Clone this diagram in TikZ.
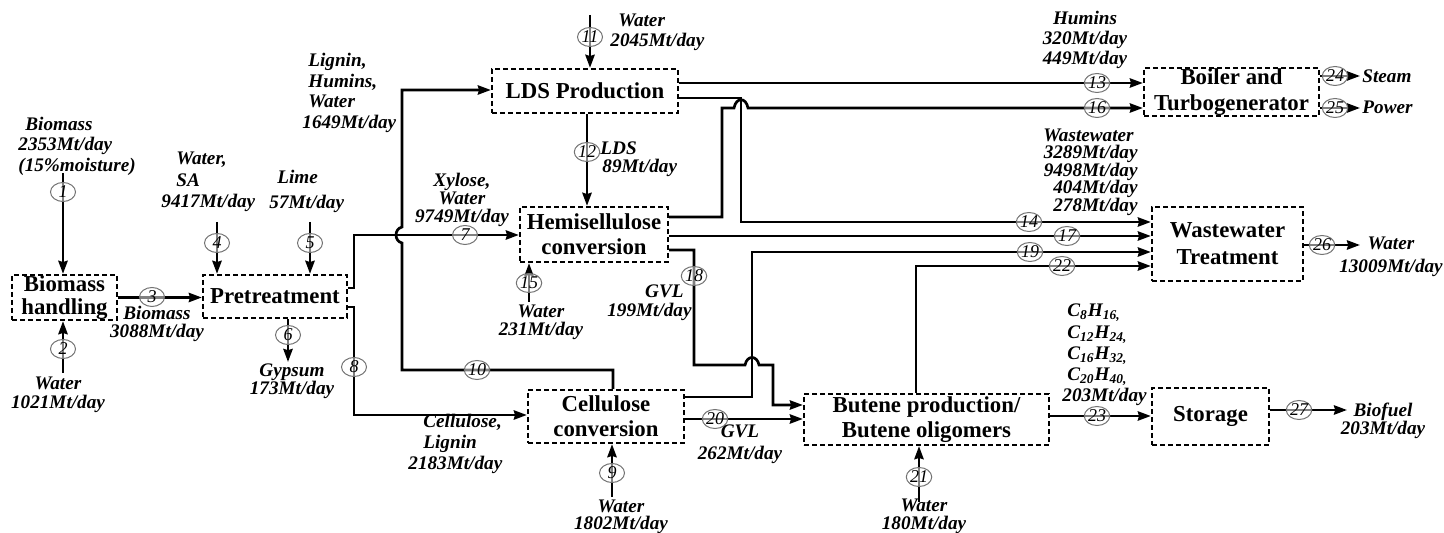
\documentclass[tikz,border=0pt]{standalone}
\usepackage{fontspec}
\setmainfont{Liberation Serif}
\usetikzlibrary{arrows.meta,shapes.geometric}
\tikzset{
  box/.style={draw, line width=1.15pt, dash pattern=on 2.4pt off 1.6pt, align=center, inner sep=0pt,
    font=\bfseries\fontsize{11.4}{12.5}\selectfont},
  flow/.style={line width=1.35pt, -{Stealth[length=6.5pt,width=4.6pt,inset=0.6pt]}},
  num/.style={ellipse, draw=black!55, line width=0.5pt, fill=white, fill opacity=0.5, text opacity=1,
    minimum width=12.5pt, minimum height=9.5pt, inner sep=0pt, font=\itshape\fontsize{9}{9}\selectfont},
  lab/.style={inner sep=0pt, font=\bfseries\itshape\fontsize{9.6}{#1}\selectfont},
  lab/.default=10pt
}
\begin{document}
\begin{tikzpicture}[x=0.5pt,y=-0.5pt]
\useasboundingbox (0,0) rectangle (1444,533);
% boxes
\node[box, minimum width=52.5pt, minimum height=22.5pt, font=\bfseries\fontsize{11.4}{11.5}\selectfont] (bh) at (64.5,297.5) {Biomass\\handling};
\node[box, minimum width=72pt, minimum height=21.5pt] (pre) at (275,296.5) {Pretreatment};
\node[box, minimum width=93pt, minimum height=22pt] (lds) at (585,91) {LDS Production};
\node[box, minimum width=74pt, minimum height=27.5pt] (hemi) at (594,234.5) {Hemisellulose\\conversion};
\node[box, minimum width=78pt, minimum height=26.5pt] (cell) at (606,416.5) {Cellulose\\conversion};
\node[box, minimum width=122.5pt, minimum height=25.5pt] (but) at (926.5,419.5) {Butene production/\\Butene oligomers};
\node[box, minimum width=58.5pt, minimum height=28.5pt] (sto) at (1210.5,416.5) {Storage};
\node[box, minimum width=87.5pt, minimum height=24pt, font=\bfseries\fontsize{11.4}{13}\selectfont] (boil) at (1231.5,92) {Boiler and\\Turbogenerator};
\node[box, minimum width=75.5pt, minimum height=37pt, font=\bfseries\fontsize{11.4}{13.5}\selectfont] (wwt) at (1227.5,244) {Wastewater\\Treatment};
% free ends
\coordinate (s1) at (63,173);
\coordinate (s2) at (63,373);
\coordinate (s4) at (217,222);
\coordinate (s5) at (310,222);
\coordinate (s6) at (288,362);
\coordinate (s9) at (612,497);
\coordinate (s11) at (590,15);
\coordinate (s15) at (529,302);
\coordinate (s21) at (919,502);
\coordinate (s24) at (1360,76);
\coordinate (s25) at (1360,108);
\coordinate (s26) at (1360,245);
\coordinate (s27) at (1347,410);
% streams
\draw[flow] (s1) -- (s1 |- bh.north);
\draw[flow] (s2) -- (s2 |- bh.south);
\draw[flow] (bh.east) -- (bh.east -| pre.west);
\draw[flow] (s4) -- (s4 |- pre.north);
\draw[flow] (s5) -- (s5 |- pre.north);
\draw[flow] (s6 |- pre.south) -- (s6);
\draw[flow] (pre.east |- 0,288) -- (354,288) -- (354,235) -- (hemi.west |- 0,235);
\draw[flow] (pre.east |- 0,307) -- (354,307) -- (354,415) -- (cell.west |- 0,415);
\draw[flow] (s9) -- (s9 |- cell.south);
\draw[flow] (cell.north -| 613,0) -- (613,370) -- (402,370) -- (402,243) .. controls (394,241) and (394,229) .. (402,227) -- (402,90) -- (lds.west |- 0,90);
\draw[flow] (s11) -- (s11 |- lds.north);
\draw[flow] (lds.south -| 587,0) -- (hemi.north -| 587,0);
\draw[flow] (lds.east |- 0,83) -- (boil.west |- 0,83);
\draw[flow] (lds.east |- 0,98) -- (741,98) -- (741,222) -- (wwt.west |- 0,222);
\draw[flow] (s15) -- (s15 |- hemi.south);
\draw[flow] (hemi.east |- 0,217) -- (722,217) -- (722,108) -- (734,108) .. controls (736,97) and (746,97) .. (748,108) -- (boil.west |- 0,108);
\draw[flow] (hemi.east |- 0,236) -- (wwt.west |- 0,236);
\draw[flow] (hemi.east |- 0,250) -- (694,250) -- (694,365) -- (745,365) .. controls (747,355) and (757,355) .. (759,365) -- (773,365) -- (773,405) -- (but.west |- 0,405);
\draw[flow] (cell.east |- 0,397) -- (752,397) -- (752,252) -- (wwt.west |- 0,252);
\draw[flow] (cell.east |- 0,419) -- (but.west |- 0,419);
\draw[flow] (s21) -- (s21 |- but.south);
\draw[flow] (but.north -| 916,0) -- (916,266) -- (wwt.west |- 0,266);
\draw[flow] (but.east |- 0,416) -- (sto.west |- 0,416);
\draw[flow] (boil.east |- s24) -- (s24);
\draw[flow] (boil.east |- s25) -- (s25);
\draw[flow] (wwt.east |- s26) -- (s26);
\draw[flow] (sto.east |- s27) -- (s27);
% stream numbers
\node[num] (n1) at (63,192) {1};
\node[num] (n2) at (63,349) {2};
\node[num] (n3) at (152,297) {3};
\node[num] (n4) at (217,243) {4};
\node[num] (n5) at (310,243) {5};
\node[num] (n6) at (288,335) {6};
\node[num] (n7) at (465,235) {7};
\node[num] (n8) at (354,367) {8};
\node[num] (n9) at (612,473) {9};
\node[num] (n10) at (477,370) {10};
\node[num] (n11) at (590,37) {11};
\node[num] (n12) at (587,152) {12};
\node[num] (n13) at (1097,83) {13};
\node[num] (n14) at (1029,222) {14};
\node[num] (n15) at (529,283) {15};
\node[num] (n16) at (1097,108) {16};
\node[num] (n17) at (1067,236) {17};
\node[num] (n18) at (694,276) {18};
\node[num] (n19) at (1030,252) {19};
\node[num] (n20) at (715,419) {20};
\node[num] (n21) at (919,477) {21};
\node[num] (n22) at (1062,266) {22};
\node[num] (n23) at (1097,416) {23};
\node[num] (n24) at (1335,76) {24};
\node[num] (n25) at (1335,108) {25};
\node[num] (n26) at (1322,245) {26};
\node[num] (n27) at (1299,410) {27};
% labels
\node[lab=10.3pt, align=left, anchor=west] (L1) at (18,146) {\hspace*{3.5pt}Biomass\\2353Mt/day\\(15\%moisture)};
\node[lab=9.5pt, align=center] (L2) at (58,395) {Water\\1021Mt/day};
\node[lab=9pt, align=center] (L3) at (157,324) {Biomass\\3088Mt/day};
\node[lab=10.7pt, align=left, anchor=west] (L4) at (161,182) {\hspace*{7.5pt}Water,\\\hspace*{7.5pt}SA\\9417Mt/day};
\node[lab=12.5pt, align=left, anchor=west] (L5) at (269,191) {\hspace*{4pt}Lime\\57Mt/day};
\node[lab=9pt, align=center] (L6) at (292,381) {Gypsum\\173Mt/day};
\node[lab=10.2pt, align=left, anchor=west] (L7) at (302,93) {\hspace*{3pt}Lignin,\\\hspace*{3pt}Humins,\\\hspace*{3pt}Water\\1649Mt/day};
\node[lab=9pt, align=center] (L8) at (462,200) {Xylose,\\Water\\9749Mt/day};
\node[lab=10.3pt, align=left, anchor=west] (L9) at (408,444) {\hspace*{7.5pt}Cellulose,\\\hspace*{7.5pt}Lignin\\2183Mt/day};
\node[lab=10pt, align=left, anchor=west] (L10) at (610,32) {\hspace*{4pt}Water\\2045Mt/day};
\node[lab=9pt, align=left, anchor=west] (L11) at (600,159) {LDS\\\hspace*{1pt}89Mt/day};
\node[lab=9pt, align=center] (L12) at (541,322) {Water\\231Mt/day};
\node[lab=8.5pt, align=center] (L13) at (621,517) {Water\\1802Mt/day};
\node[lab=9.5pt, align=right, anchor=east] (L14) at (692,303) {GVL\hspace*{4pt}\\199Mt/day};
\node[lab=11pt, align=center] (L15) at (740,444) {GVL\\262Mt/day};
\node[lab=10pt, align=center] (L16) at (1085,40) {Humins\\320Mt/day\\449Mt/day};
\node[lab=8.75pt, align=right, anchor=east] (L17) at (1138,172) {Wastewater\hspace*{2pt}\\3289Mt/day\\9498Mt/day\\404Mt/day\\278Mt/day};
\node[lab=10.6pt, align=left, anchor=west] (L18) at (1062,355) {\hspace*{2.5pt}C\textsubscript{8}H\textsubscript{16,}\\\hspace*{2.5pt}C\textsubscript{12}H\textsubscript{24,}\\\hspace*{2.5pt}C\textsubscript{16}H\textsubscript{32,}\\\hspace*{2.5pt}C\textsubscript{20}H\textsubscript{40,}\\203Mt/day};
\node[lab, anchor=west] (L19) at (1362,76) {Steam};
\node[lab, anchor=west] (L20) at (1362,107) {Power};
\node[lab=11.5pt, align=center] (L21) at (1391,257) {Water\\13009Mt/day};
\node[lab=9pt, align=center] (L22) at (1383,421) {Biofuel\\203Mt/day};
\node[lab=8.8pt, align=center] (L23) at (924,516) {Water\\180Mt/day};
\end{tikzpicture}
\end{document}
